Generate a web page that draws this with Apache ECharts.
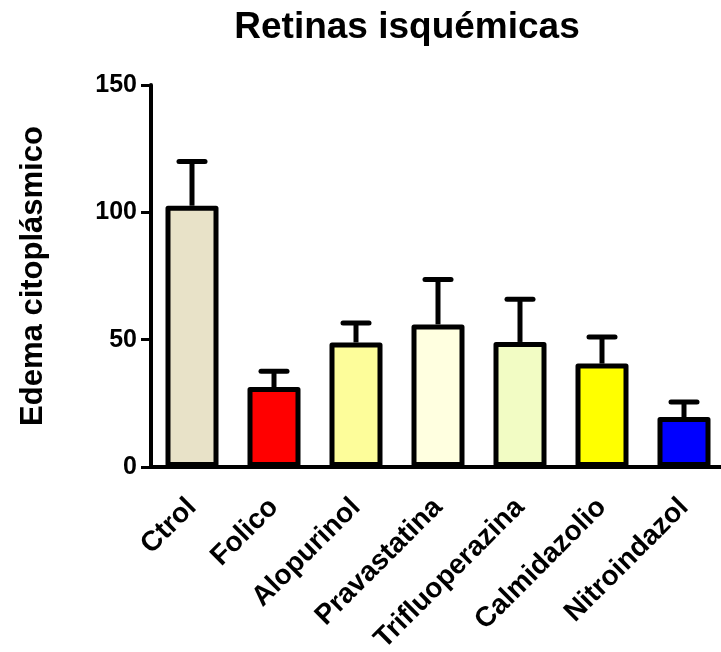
<!DOCTYPE html>
<html><head><meta charset="utf-8">
<script src="https://cdn.jsdelivr.net/npm/echarts@6/dist/echarts.min.js"></script>
<style>html,body{margin:0;padding:0;background:#fff}#c{width:721px;height:652px}</style>
</head><body><div id="c"></div>
<script>
var categories = ['Ctrol','Folico','Alopurinol','Pravastatina','Trifluoperazina','Calmidazolio','Nitroindazol'];
var means = [102.6, 31.4, 48.9, 56.0, 49.1, 40.6, 19.6];
var upper = [120.0, 37.6, 56.5, 73.6, 65.9, 51.0, 25.5];
var colors = ['#e8e2c8','#ff0000','#fdfd9a','#ffffe0','#f2fcc4','#ffff00','#0000ff'];
var yTicks = [0, 50, 100, 150];

var chart = echarts.init(document.getElementById('c'));
var font = 'Liberation Sans, Arial, sans-serif';
chart.setOption({
  animation:false,
  title:{text:'Retinas isquémicas', left:402, top:4, textAlign:'center',
    textStyle:{fontFamily:font,fontWeight:'bold',fontSize:37,color:'#000'}},
  grid:{left:151, top:85, width:574, height:382, outerBoundsMode:'none', containLabel:false},
  xAxis:{type:'category', data:categories,
    axisLine:{lineStyle:{color:'#000',width:4}},
    axisTick:{alignWithLabel:true,length:10,lineStyle:{width:3,color:'#000'}},
    axisLabel:{rotate:45,interval:0,margin:36,color:'#000',fontFamily:font,fontWeight:'bold',fontSize:28}},
  yAxis:{type:'value',min:0,max:150,interval:50,
    name:'Edema citoplásmico',nameLocation:'middle',nameGap:102,nameRotate:90,
    nameTextStyle:{fontFamily:font,fontWeight:'bold',fontSize:31,color:'#000'},
    splitLine:{show:false},
    axisLine:{show:true,lineStyle:{color:'#000',width:4}},
    axisTick:{show:true,length:10,lineStyle:{width:3,color:'#000'}},
    axisLabel:{margin:14,color:'#000',fontFamily:font,fontWeight:'bold',fontSize:25,
      formatter:function(v){return yTicks.indexOf(v)>=0?String(v):'';}}},
  series:[
    {type:'custom', z:1,
     renderItem:function(params,api){
       var i=api.value(0);
       var top=api.coord([i,api.value(2)]);
       var base=api.coord([i,api.value(1)]);
       var cap=13;
       return {type:'group',children:[
         {type:'line',shape:{x1:top[0],y1:top[1],x2:base[0],y2:base[1]},style:{stroke:'#000',lineWidth:5}},
         {type:'line',shape:{x1:top[0]-cap,y1:top[1],x2:top[0]+cap,y2:top[1]},style:{stroke:'#000',lineWidth:5,lineCap:'round'}}
       ]};
     },
     data:categories.map(function(c,i){return [i,means[i],upper[i]];})},
    {type:'bar', z:2, barWidth:53,
     data:means.map(function(v,i){return {value:v,itemStyle:{color:colors[i]}};}),
     itemStyle:{borderColor:'#000',borderWidth:5,borderJoin:'round'}}
  ]
});
</script></body></html>
